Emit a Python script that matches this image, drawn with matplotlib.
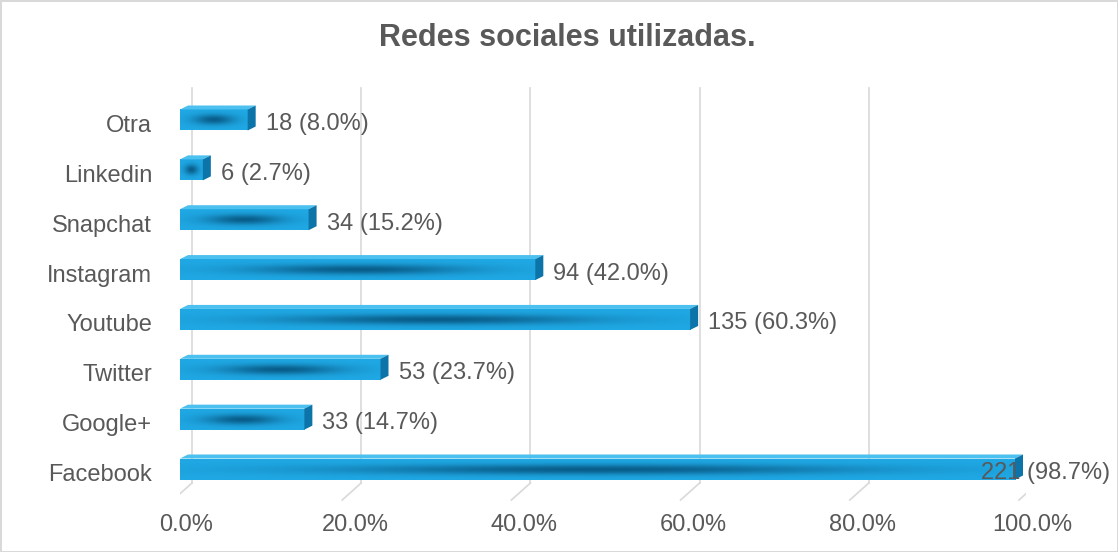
import numpy as np
import matplotlib
matplotlib.use("Agg")
import matplotlib.pyplot as plt
from matplotlib.patches import Polygon, Rectangle

plt.rcParams['font.family'] = ['Liberation Sans', 'DejaVu Sans']

# datos (de abajo hacia arriba)
categorias = ["Facebook", "Google+", "Twitter", "Youtube", "Instagram", "Snapchat", "Linkedin", "Otra"]
cantidades = [221, 33, 53, 135, 94, 34, 6, 18]
porcentajes = [98.7, 14.7, 23.7, 60.3, 42.0, 15.2, 2.7, 8.0]
ticks = [0, 20, 40, 60, 80, 100]
titulo = "Redes sociales utilizadas."

gris_texto = "#595959"
gris_linea = "#d9d9d9"
azul_claro = np.array([0x1f, 0xa8, 0xe4]) / 255
azul_oscuro = np.array([0x06, 0x55, 0x80]) / 255
azul_tapa = "#4cc0ee"
azul_lado = "#0c74a8"

W, H = 1118, 552
fig = plt.figure(figsize=(W / 100, H / 100), dpi=100)
fig.patch.set_edgecolor(gris_linea)
fig.patch.set_linewidth(2)

# ejes: x=0 en px 180, x=100 en px 1026 ; y de px 80 a 510
ax_l, ax_r, ax_t, ax_b = 180, 1026, 80, 510
ax = fig.add_axes([ax_l / W, 1 - ax_b / H, (ax_r - ax_l) / W, (ax_b - ax_t) / H])
ax.set_axis_off()
paso = 49.86
ymin = 0 - (ax_b - 469) / paso
ymax = 7 + (120 - ax_t) / paso
xmin, xmax = 0, 100
px_x = (ax_r - ax_l) / (xmax - xmin)
px_y = (ax_b - ax_t) / (ymax - ymin)

def dx(p):
    return p / px_x

def dy(p):
    return p / px_y

# lineas de cuadricula (plano trasero + piso)
y_arriba = ymax - dy(8)
y_fondo = -dy(14)
y_frente = -dy(31)
for t in ticks:
    xb = t + dx(12)
    ax.plot([xb, xb], [y_fondo, y_arriba], color=gris_linea, lw=1.2, zorder=1)
    ax.plot([xb, xb - dx(19)], [y_fondo, y_frente], color=gris_linea, lw=1.2, zorder=1)
    ax.text(t + dx(6), -dy(56), f"{t:.1f}%", ha="center", va="center",
            fontsize=17, color=gris_texto, clip_on=False)

# gradiente para la cara frontal
nx, ny = 200, 40
gx = np.linspace(-1, 1, nx)
gy = np.linspace(-1, 1, ny)
GX, GY = np.meshgrid(gx, gy)
w = 0.9 * np.exp(-(GX / 0.6) ** 2) * np.exp(-(GY / 0.5) ** 2)
img = azul_claro[None, None, :] * (1 - w[..., None]) + azul_oscuro[None, None, :] * w[..., None]

alto = dy(21)
prof_x, prof_y = dx(8), dy(4)
for i, (cat, n, p) in enumerate(zip(categorias, cantidades, porcentajes)):
    y0, y1 = i - alto / 2, i + alto / 2
    frente = Rectangle((0, y0), p, alto, facecolor="none", edgecolor="none")
    ax.add_patch(frente)
    im = ax.imshow(img, extent=(0, p, y0, y1), aspect="auto", origin="lower",
                   interpolation="bilinear", zorder=3)
    im.set_clip_path(frente)
    tapa = Polygon([(0, y1), (p, y1), (p + prof_x, y1 + prof_y), (prof_x, y1 + prof_y)],
                   closed=True, facecolor=azul_tapa, edgecolor="none", zorder=3)
    lado = Polygon([(p, y0), (p, y1), (p + prof_x, y1 + prof_y), (p + prof_x, y0 + prof_y)],
                   closed=True, facecolor=azul_lado, edgecolor="none", zorder=3)
    ax.add_patch(tapa)
    ax.add_patch(lado)
    # etiqueta de categoria
    ax.text(-dx(28), i - dy(6), cat, ha="right", va="center", fontsize=17,
            color=gris_texto, clip_on=False)
    # etiqueta de valor
    etiqueta = f"{n} ({p:.1f}%)"
    if p > 90:
        ax.text(dx(1110 - ax_l), i - dy(4), etiqueta, ha="right", va="center",
                fontsize=17, color=gris_texto, clip_on=False, zorder=4)
    else:
        ax.text(p + dx(18), i - dy(4), etiqueta, ha="left", va="center",
                fontsize=17, color=gris_texto, clip_on=False, zorder=4)

ax.set_xlim(xmin, xmax)
ax.set_ylim(ymin, ymax)

fig.text(567 / W, 1 - 38 / H, titulo, ha="center", va="center", fontsize=22,
         fontweight="bold", color=gris_texto)

fig.savefig("out.png", dpi=100)
